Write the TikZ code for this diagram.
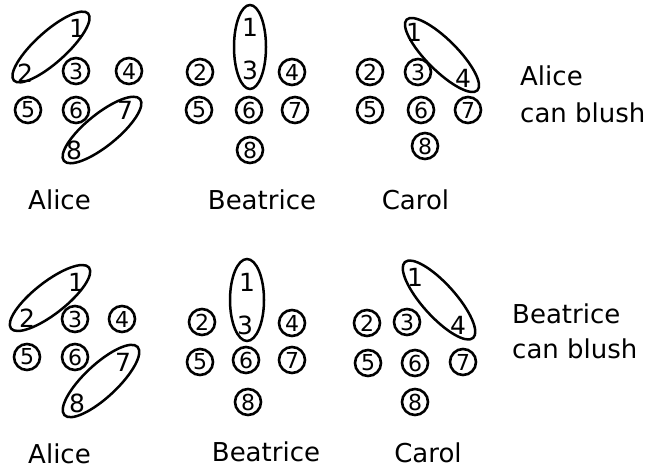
\documentclass[tikz,border=0pt]{standalone}
\usepackage{fontspec}
\setmainfont{DejaVu Sans}
\usetikzlibrary{shapes.geometric}
\begin{document}
\begin{tikzpicture}[x=1pt,y=-1pt,
  num/.style={font=\fontsize{25}{25}\selectfont, inner sep=0pt},
  cnum/.style={font=\fontsize{22}{22}\selectfont, inner sep=0pt, draw, circle, line width=2.6pt, minimum size=26pt},
  loop/.style={draw, ellipse, line width=2.5pt, inner sep=0pt},
  lab/.style={font=\fontsize{26}{30}\selectfont, inner sep=0pt, anchor=base},
  side/.style={font=\fontsize{26}{30}\selectfont, inner sep=0pt, anchor=base west}]
\path[use as bounding box, fill=white] (0,0) rectangle (652,473);
% top row: Alice
\node[num] (a1) at (77,28) {1};
\node[num] (a2) at (25,73) {2};
\node[cnum] (a3) at (76,71) {3};
\node[cnum] (a4) at (129,71) {4};
\node[cnum] (a5) at (28,110) {5};
\node[cnum] (a6) at (76,110) {6};
\node[num] (a7) at (125,110) {7};
\node[num] (a8) at (74,150) {8};
\node[loop, rotate=42, minimum width=100pt, minimum height=31pt] (a12) at (51,47) {};
\node[loop, rotate=39, minimum width=98pt, minimum height=32pt] (a78) at (102,130) {};
% top row: Beatrice
\node[num] (b1) at (250,27) {1};
\node[num] (b3) at (250,70) {3};
\node[loop, rotate=90, minimum width=84pt, minimum height=32pt] (b13) at (250,47) {};
\node[cnum] (b2) at (200,72) {2};
\node[cnum] (b4) at (292,72) {4};
\node[cnum] (b5) at (199,110) {5};
\node[cnum] (b6) at (249,110) {6};
\node[cnum] (b7) at (295,110) {7};
\node[cnum] (b8) at (250,150) {8};
% top row: Carol
\node[num] (c1) at (414,32) {1};
\node[num] (c4) at (463,78) {4};
\node[loop, rotate=-45, minimum width=100pt, minimum height=31pt] (c14) at (442,55) {};
\node[cnum] (c2) at (370,72) {2};
\node[cnum] (c3) at (418,72) {3};
\node[cnum] (c5) at (370,110) {5};
\node[cnum] (c6) at (421,110) {6};
\node[cnum] (c7) at (468,110) {7};
\node[cnum] (c8) at (425,146) {8};
% top labels
\node[lab] (la) at (59.5,209) {Alice};
\node[lab] (lb) at (262,209) {Beatrice};
\node[lab] (lc) at (415.5,209) {Carol};
\node[side] (s1) at (520,86) {Alice};
\node[side] (s2) at (520,123) {can blush};
% bottom row: Alice
\node[num] (d1) at (76,282) {1};
\node[num] (d2) at (27,318) {2};
\node[loop, rotate=38, minimum width=99pt, minimum height=32pt] (d12) at (50,298) {};
\node[cnum] (d3) at (75,319) {3};
\node[cnum] (d4) at (122,319) {4};
\node[cnum] (d5) at (27,357) {5};
\node[cnum] (d6) at (75,357) {6};
\node[num] (d7) at (123,362) {7};
\node[num] (d8) at (77,403) {8};
\node[loop, rotate=43, minimum width=100pt, minimum height=33pt] (d78) at (101,381) {};
% bottom row: Beatrice
\node[num] (e1) at (247,282) {1};
\node[num] (e3) at (245,325) {3};
\node[loop, rotate=90, minimum width=82pt, minimum height=34pt] (e13) at (247,300) {};
\node[cnum] (e2) at (202,322) {2};
\node[cnum] (e4) at (292,323) {4};
\node[cnum] (e5) at (200,362) {5};
\node[cnum] (e6) at (246,360) {6};
\node[cnum] (e7) at (292,360) {7};
\node[cnum] (e8) at (248,402) {8};
% bottom row: Carol
\node[num] (f1) at (415,277) {1};
\node[num] (f4) at (458,325) {4};
\node[loop, rotate=-48, minimum width=102pt, minimum height=33pt] (f14) at (439,300) {};
\node[cnum] (f2) at (367,323) {2};
\node[cnum] (f3) at (407,322) {3};
\node[cnum] (f5) at (368,363) {5};
\node[cnum] (f6) at (415,363) {6};
\node[cnum] (f7) at (463,362) {7};
\node[cnum] (f8) at (415,402) {8};
% bottom labels
\node[lab] (ma) at (59.5,463) {Alice};
\node[lab] (mb) at (266,461) {Beatrice};
\node[lab] (mc) at (428,462) {Carol};
\node[side] (t1) at (512,323) {Beatrice};
\node[side] (t2) at (512,358) {can blush};
\end{tikzpicture}
\end{document}
